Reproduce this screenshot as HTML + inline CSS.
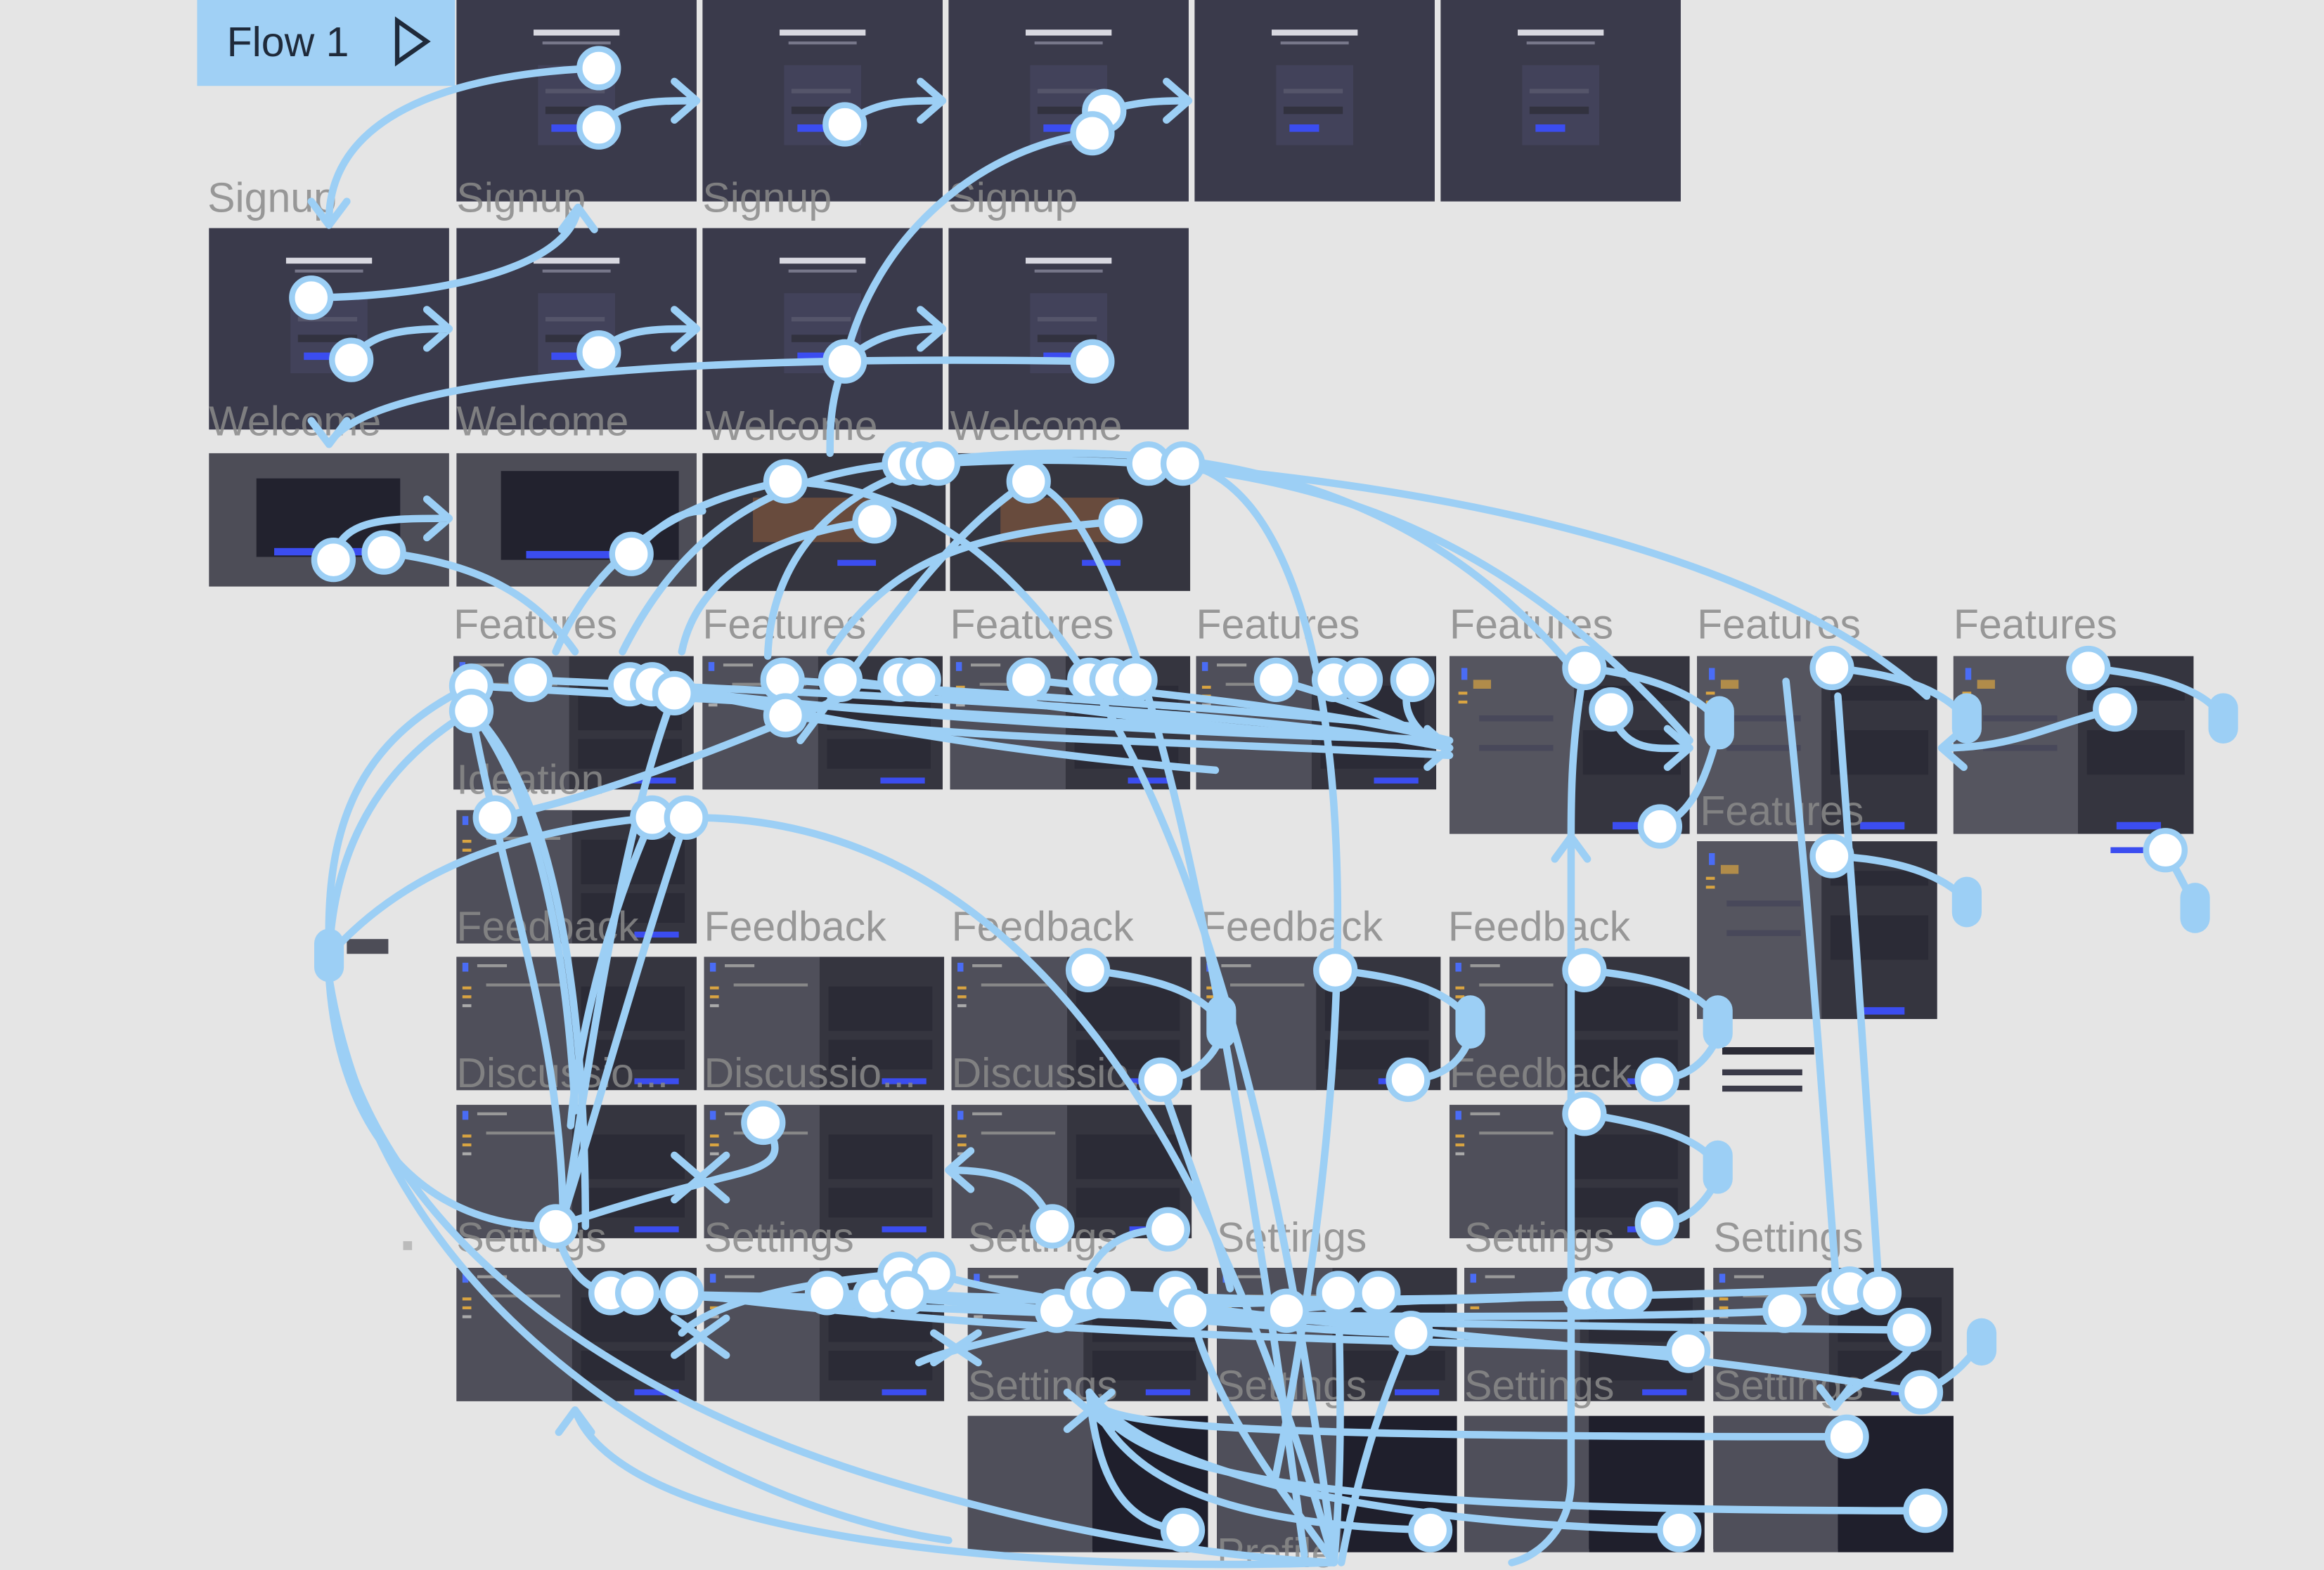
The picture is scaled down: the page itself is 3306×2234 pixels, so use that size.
<!DOCTYPE html>
<html><head><meta charset="utf-8"><style>
html,body{margin:0;padding:0;background:#e5e5e5;}
svg{display:block;}
.lbl{font-family:"Liberation Sans",sans-serif;font-size:28px;fill:#8a8a8a;opacity:.85}
.c{fill:none;stroke:#9ccff5;stroke-width:5;stroke-linecap:round;stroke-linejoin:round}
.d{fill:#fff;stroke:#9ccff5;stroke-width:4}
.p{fill:#9ccff5}
</style></head><body>
<svg width="3306" height="2234" viewBox="0 0 1568 1060" preserveAspectRatio="none" xmlns="http://www.w3.org/2000/svg">
<defs>
<g id="auth">
<rect width="162" height="136" fill="#3a3a4b"/>
<rect x="52" y="20" width="58" height="4" fill="#d8d8e0"/>
<rect x="58" y="28" width="46" height="2" fill="#77778a"/>
<rect x="55" y="44" width="52" height="54" fill="#42425a"/>
<rect x="60" y="60" width="40" height="3" fill="#55556a"/>
<rect x="60" y="72" width="40" height="5" fill="#32323f"/>
<rect x="64" y="84" width="20" height="5" fill="#3b4df0"/>
</g>
<g id="dash">
<rect width="162" height="90" fill="#35353f"/>
<rect width="78" height="90" fill="#4f4f5a"/>
<rect x="4" y="4" width="4" height="6" fill="#4a6cf5"/>
<rect x="14" y="5" width="20" height="2" fill="#999"/>
<rect x="4" y="20" width="6" height="2" fill="#d9a441"/>
<rect x="4" y="26" width="6" height="2" fill="#d9a441"/>
<rect x="4" y="32" width="6" height="2" fill="#aaa"/>
<rect x="20" y="18" width="50" height="2" fill="#888"/>
<rect x="84" y="20" width="70" height="30" fill="#2b2b36"/>
<rect x="84" y="56" width="70" height="20" fill="#2b2b36"/>
<rect x="120" y="82" width="30" height="4" fill="#3b4df0"/>
</g>
<g id="tall">
<rect width="162" height="120" fill="#35353f"/>
<rect width="84" height="120" fill="#55555f"/>
<rect x="8" y="8" width="4" height="8" fill="#4a6cf5"/>
<rect x="6" y="24" width="6" height="2" fill="#d9a441"/>
<rect x="6" y="30" width="6" height="2" fill="#d9a441"/>
<rect x="16" y="16" width="12" height="6" fill="#d9a441" opacity=".7"/>
<rect x="20" y="40" width="50" height="4" fill="#48485a"/>
<rect x="20" y="60" width="50" height="4" fill="#48485a"/>
<rect x="90" y="20" width="66" height="10" fill="#2b2b36"/>
<rect x="90" y="50" width="66" height="30" fill="#2b2b36"/>
<rect x="110" y="112" width="30" height="5" fill="#3b4df0"/>
</g>
</defs>

<rect x="133" y="0" width="174" height="58" fill="#a0d0f5"/>
<text x="153" y="38" font-family="Liberation Sans,sans-serif" font-size="28" fill="#1f2a3a">Flow 1</text>
<path d="M268,14 L288,28 L268,42 Z" fill="none" stroke="#1f2a3a" stroke-width="3"/>

<use href="#auth" x="308" y="0"/><use href="#auth" x="474" y="0"/><use href="#auth" x="640" y="0"/><use href="#auth" x="806" y="0"/><use href="#auth" x="972" y="0"/>
<use href="#auth" x="141" y="154"/><use href="#auth" x="308" y="154"/><use href="#auth" x="474" y="154"/><use href="#auth" x="640" y="154"/>
<text class="lbl" x="140" y="143">Signup</text><text class="lbl" x="308" y="143">Signup</text><text class="lbl" x="474" y="143">Signup</text><text class="lbl" x="640" y="143">Signup</text>

<rect x="141" y="306" width="162" height="90" fill="#4d4d57"/><rect x="173" y="323" width="97" height="53" fill="#22222e"/><rect x="185" y="370" width="80" height="5" fill="#3b4df0"/>
<rect x="308" y="306" width="162" height="90" fill="#4d4d57"/><rect x="338" y="318" width="120" height="60" fill="#22222e"/><rect x="355" y="372" width="80" height="5" fill="#3b4df0"/>
<rect x="474" y="306" width="164" height="93" fill="#35353f"/><rect x="508" y="336" width="80" height="30" fill="#8b5a3c" opacity=".6"/><rect x="565" y="378" width="26" height="4" fill="#3b4df0"/>
<rect x="641" y="306" width="162" height="93" fill="#35353f"/><rect x="675" y="336" width="80" height="30" fill="#8b5a3c" opacity=".6"/><rect x="730" y="378" width="26" height="4" fill="#3b4df0"/>
<text class="lbl" x="141" y="294">Welcome</text><text class="lbl" x="308" y="294">Welcome</text><text class="lbl" x="476" y="297">Welcome</text><text class="lbl" x="641" y="297">Welcome</text>

<use href="#dash" x="306" y="443"/><use href="#dash" x="474" y="443"/><use href="#dash" x="641" y="443"/><use href="#dash" x="807" y="443"/>
<use href="#tall" x="978" y="443"/><use href="#tall" x="1145" y="443"/><use href="#tall" x="1318" y="443"/><use href="#tall" x="1145" y="568"/>
<text class="lbl" x="306" y="431">Features</text><text class="lbl" x="474" y="431">Features</text><text class="lbl" x="641" y="431">Features</text><text class="lbl" x="807" y="431">Features</text><text class="lbl" x="978" y="431">Features</text><text class="lbl" x="1145" y="431">Features</text><text class="lbl" x="1318" y="431">Features</text><text class="lbl" x="1147" y="557">Features</text>
<rect x="1424" y="572" width="22" height="4" fill="#3b4df0"/>
<rect x="1162" y="707" width="62" height="5" fill="#2b2b36"/><rect x="1162" y="722" width="54" height="4" fill="#3a3a48"/><rect x="1162" y="733" width="54" height="4" fill="#3a3a48"/>
<rect x="234" y="634" width="28" height="10" fill="#4d4d57"/>

<use href="#dash" x="308" y="547"/>
<text class="lbl" x="308" y="536">Ideation</text>

<use href="#dash" x="308" y="646"/><use href="#dash" x="475" y="646"/><use href="#dash" x="642" y="646"/><use href="#dash" x="810" y="646"/><use href="#dash" x="978" y="646"/>
<text class="lbl" x="308" y="635">Feedback</text><text class="lbl" x="475" y="635">Feedback</text><text class="lbl" x="642" y="635">Feedback</text><text class="lbl" x="810" y="635">Feedback</text><text class="lbl" x="977" y="635">Feedback</text>

<use href="#dash" x="308" y="746"/><use href="#dash" x="475" y="746"/><use href="#dash" x="642" y="746"/><use href="#dash" x="978" y="746"/>
<text class="lbl" x="308" y="734">Discussio...</text><text class="lbl" x="475" y="734">Discussio...</text><text class="lbl" x="642" y="734">Discussio...</text><text class="lbl" x="978" y="734">Feedback</text>

<use href="#dash" x="308" y="856"/><use href="#dash" x="475" y="856"/><use href="#dash" x="653" y="856"/><use href="#dash" x="821" y="856"/><use href="#dash" x="988" y="856"/><use href="#dash" x="1156" y="856"/>
<text class="lbl" x="308" y="845">Settings</text><text class="lbl" x="475" y="845">Settings</text><text class="lbl" x="653" y="845">Settings</text><text class="lbl" x="821" y="845">Settings</text><text class="lbl" x="988" y="845">Settings</text><text class="lbl" x="1156" y="845">Settings</text>
<use href="#dash" x="653" y="956"/><use href="#dash" x="821" y="956"/><use href="#dash" x="988" y="956"/><use href="#dash" x="1156" y="956"/>
<rect x="737" y="956" width="78" height="92" fill="#1f1f2c"/><rect x="905" y="956" width="78" height="92" fill="#1f1f2c"/><rect x="1072" y="956" width="78" height="92" fill="#1f1f2c"/><rect x="1240" y="956" width="78" height="92" fill="#1f1f2c"/>
<rect x="653" y="956" width="84" height="92" fill="#4f4f5a"/><rect x="821" y="956" width="84" height="92" fill="#4f4f5a"/><rect x="988" y="956" width="84" height="92" fill="#4f4f5a"/><rect x="1156" y="956" width="84" height="92" fill="#4f4f5a"/>
<text class="lbl" x="653" y="945">Settings</text><text class="lbl" x="821" y="945">Settings</text><text class="lbl" x="988" y="945">Settings</text><text class="lbl" x="1156" y="945">Settings</text>
<text class="lbl" x="821" y="1058">Profile</text>
<rect x="272" y="838" width="6" height="6" fill="#bbb"/>

<g class="c">
<path d="M404,46 C300,50 220,80 222,152 M210,136 L222,152 L234,136"/>
<path d="M404,86 C420,68 440,68 470,68 M455,55 L470,68 L455,81"/>
<path d="M570,84 C590,68 610,68 636,68 M621,55 L636,68 L621,81"/>
<path d="M745,75 C770,68 785,68 802,68 M787,55 L802,68 L787,81"/>
<path d="M737,90 C660,100 590,160 570,244 C560,270 560,290 560,306"/>
<path d="M210,201 C300,200 385,180 390,140 M379,155 L390,140 L401,155"/>
<path d="M237,243 C250,225 270,222 303,222 M288,209 L303,222 L288,235"/>
<path d="M404,238 C420,222 440,222 470,222 M455,209 L470,222 L455,235"/>
<path d="M570,244 C590,226 610,222 636,222 M621,209 L636,222 L621,235"/>
<path d="M737,244 C500,240 250,250 222,300 M210,284 L222,300 L234,284"/>
<path d="M225,378 C230,350 260,350 303,350 M288,337 L303,350 L288,363"/>
<path d="M259,373 C320,380 360,400 388,440"/>
<path d="M426,374 C440,360 455,345 474,345"/>
<path d="M530,325 C450,340 400,380 375,440"/>
<path d="M610,313 C520,320 460,360 420,440"/>
<path d="M633,313 C560,330 520,380 518,443"/>
<path d="M694,325 C640,360 600,420 540,500"/>
<path d="M590,352 C520,360 470,390 460,440"/>
<path d="M756,352 C650,360 600,380 560,440"/>
<path d="M610,313 C800,290 950,320 1060,450"/>
<path d="M633,313 C850,300 1000,340 1140,500"/>
<path d="M775,313 C1000,330 1200,380 1300,470"/>
<path d="M798,313 C900,330 940,600 860,1000"/>
<path d="M694,325 C760,340 820,600 880,1050"/>
<path d="M530,325 C640,330 820,400 900,1055"/>
<path d="M358,459 C600,470 850,480 978,505 M963,492 L978,505 L963,518"/>
<path d="M318,463 C600,480 800,490 970,500"/>
<path d="M425,462 C600,485 800,495 978,500"/>
<path d="M528,459 C700,470 850,480 950,490"/>
<path d="M567,459 C700,475 800,490 880,495"/>
<path d="M694,459 C800,470 900,480 978,500"/>
<path d="M861,459 C900,470 930,480 978,505"/>
<path d="M953,459 C940,480 960,500 978,505"/>
<path d="M530,483 C650,500 800,500 978,510"/>
<path d="M440,462 C600,495 700,510 820,520"/>
<path d="M318,480 C250,520 225,580 222,645"/>
<path d="M318,463 C240,500 220,560 222,640"/>
<path d="M222,660 C230,780 300,830 375,828"/>
<path d="M222,660 C240,820 400,940 600,1000 C700,1030 800,1050 900,1055"/>
<path d="M222,660 C260,900 500,1020 640,1040"/>
<path d="M900,1055 C700,1062 420,1040 388,952 M377,967 L388,952 L399,967"/>
<path d="M318,480 C350,520 380,600 388,750"/>
<path d="M318,480 C340,600 380,700 380,830"/>
<path d="M318,480 C380,540 395,700 395,828"/>
<path d="M455,468 C420,560 400,700 380,828"/>
<path d="M463,552 C430,650 400,760 378,828"/>
<path d="M440,552 C410,620 390,700 385,760"/>
<path d="M334,552 C400,540 500,500 570,470"/>
<path d="M463,552 C650,550 800,700 900,1055"/>
<path d="M222,645 C280,580 360,560 440,552"/>
<path d="M1069,451 C1060,500 1060,540 1060,565 M1049,580 L1060,565 L1071,580"/>
<path d="M1060,565 L1060,1000 C1060,1030 1040,1050 1020,1055"/>
<path d="M1069,451 C1110,455 1150,470 1159,488"/>
<path d="M1087,479 C1095,510 1120,505 1140,505 M1125,492 L1140,505 L1125,518"/>
<path d="M1159,495 C1150,530 1140,550 1120,558"/>
<path d="M1236,451 C1280,455 1310,465 1327,485"/>
<path d="M1409,451 C1450,455 1490,465 1499,485"/>
<path d="M1427,479 C1380,490 1360,505 1310,505 M1325,492 L1310,505 L1325,518"/>
<path d="M1236,578 C1280,580 1310,590 1327,608"/>
<path d="M1461,574 C1470,590 1475,600 1481,612"/>
<path d="M1205,460 C1220,600 1230,750 1240,880"/>
<path d="M1240,470 C1250,600 1260,750 1268,873"/>
<path d="M734,655 C780,660 810,670 824,690"/>
<path d="M824,700 C815,720 800,728 783,729"/>
<path d="M901,655 C950,660 980,670 992,690"/>
<path d="M992,700 C985,720 970,728 950,729"/>
<path d="M1069,655 C1120,660 1150,670 1159,690"/>
<path d="M1159,700 C1150,720 1135,728 1118,729"/>
<path d="M1069,752 C1120,760 1150,770 1159,788"/>
<path d="M1159,795 C1150,815 1135,826 1118,826"/>
<path d="M783,729 C800,780 820,830 830,870"/>
<path d="M515,758 C540,790 500,790 470,800 C430,810 400,820 375,828"/>
<path d="M455,780 L490,810 M455,810 L490,780"/>
<path d="M710,828 C700,800 680,790 640,790 M655,777 L640,790 L655,803"/>
<path d="M788,830 C760,830 740,840 730,870"/>
<path d="M375,828 C380,850 390,870 412,873"/>
<path d="M412,873 C700,880 1000,880 1248,870"/>
<path d="M430,873 C700,890 1000,895 1288,898"/>
<path d="M460,873 C700,905 1000,905 1139,912"/>
<path d="M558,873 C800,880 1000,878 1085,873"/>
<path d="M590,875 C800,890 900,900 952,900"/>
<path d="M612,873 C800,885 900,880 930,873"/>
<path d="M607,860 C500,870 470,890 460,900"/>
<path d="M630,860 C700,880 780,885 803,885"/>
<path d="M713,885 C900,890 1100,890 1204,885"/>
<path d="M733,873 C900,880 1000,880 1069,873"/>
<path d="M748,873 C900,900 1050,900 1296,940"/>
<path d="M793,873 C700,900 640,910 620,920"/>
<path d="M868,885 C900,880 950,878 1100,873"/>
<path d="M455,890 L490,915 M455,915 L490,890"/>
<path d="M630,900 L660,920 M630,920 L660,900"/>
<path d="M735,940 C740,960 760,970 1246,970"/>
<path d="M735,940 C760,1000 900,1020 1299,1020"/>
<path d="M735,940 C760,1010 850,1030 965,1033"/>
<path d="M735,940 C780,1000 950,1030 1133,1033"/>
<path d="M735,940 C740,1000 760,1030 798,1033"/>
<path d="M720,940 L750,965 M720,965 L750,940"/>
<path d="M1288,898 C1300,920 1250,930 1238,950 M1228,937 L1238,950 L1248,937"/>
<path d="M1296,940 C1320,930 1330,915 1337,906"/>
<path d="M903,873 C905,950 905,1000 900,1055"/>
<path d="M803,885 C820,950 860,1000 900,1055"/>
<path d="M952,900 C930,950 915,1000 905,1055"/>
</g>
<g class="p">
<rect x="212" y="627" width="20" height="36" rx="10"/>
<rect x="1150" y="470" width="20" height="36" rx="10"/>
<rect x="1317" y="468" width="20" height="34" rx="10"/>
<rect x="1490" y="468" width="20" height="34" rx="10"/>
<rect x="1317" y="592" width="20" height="34" rx="10"/>
<rect x="1471" y="596" width="20" height="34" rx="10"/>
<rect x="814" y="672" width="20" height="36" rx="10"/>
<rect x="982" y="672" width="20" height="36" rx="10"/>
<rect x="1149" y="672" width="20" height="36" rx="10"/>
<rect x="1149" y="770" width="20" height="36" rx="10"/>
<rect x="1327" y="890" width="20" height="32" rx="10"/>
</g>
<g class="d">
<circle cx="404" cy="46" r="13"/><circle cx="404" cy="86" r="13"/><circle cx="570" cy="84" r="13"/><circle cx="745" cy="75" r="13"/><circle cx="737" cy="90" r="13"/>
<circle cx="210" cy="201" r="13"/><circle cx="237" cy="243" r="13"/><circle cx="404" cy="238" r="13"/><circle cx="570" cy="244" r="13"/><circle cx="737" cy="244" r="13"/>
<circle cx="225" cy="378" r="13"/><circle cx="259" cy="373" r="13"/><circle cx="426" cy="374" r="13"/>
<circle cx="530" cy="325" r="13"/><circle cx="610" cy="313" r="13"/><circle cx="622" cy="313" r="13"/><circle cx="633" cy="313" r="13"/><circle cx="694" cy="325" r="13"/><circle cx="590" cy="352" r="13"/><circle cx="756" cy="352" r="13"/><circle cx="775" cy="313" r="13"/><circle cx="798" cy="313" r="13"/>
<circle cx="318" cy="463" r="13"/><circle cx="318" cy="480" r="13"/><circle cx="358" cy="459" r="13"/><circle cx="425" cy="462" r="13"/><circle cx="440" cy="462" r="13"/><circle cx="455" cy="468" r="13"/>
<circle cx="528" cy="459" r="13"/><circle cx="567" cy="459" r="13"/><circle cx="607" cy="459" r="13"/><circle cx="620" cy="459" r="13"/><circle cx="530" cy="483" r="13"/>
<circle cx="694" cy="459" r="13"/><circle cx="735" cy="459" r="13"/><circle cx="750" cy="459" r="13"/><circle cx="766" cy="459" r="13"/>
<circle cx="861" cy="459" r="13"/><circle cx="900" cy="459" r="13"/><circle cx="918" cy="459" r="13"/><circle cx="953" cy="459" r="13"/>
<circle cx="1069" cy="451" r="13"/><circle cx="1087" cy="479" r="13"/><circle cx="1120" cy="558" r="13"/><circle cx="1236" cy="451" r="13"/><circle cx="1236" cy="578" r="13"/><circle cx="1409" cy="451" r="13"/><circle cx="1427" cy="479" r="13"/><circle cx="1461" cy="574" r="13"/>
<circle cx="334" cy="552" r="13"/><circle cx="440" cy="552" r="13"/><circle cx="463" cy="552" r="13"/>
<circle cx="734" cy="655" r="13"/><circle cx="783" cy="729" r="13"/><circle cx="901" cy="655" r="13"/><circle cx="950" cy="729" r="13"/><circle cx="1069" cy="655" r="13"/><circle cx="1118" cy="729" r="13"/><circle cx="1069" cy="752" r="13"/><circle cx="1118" cy="826" r="13"/>
<circle cx="515" cy="758" r="13"/><circle cx="375" cy="828" r="13"/><circle cx="710" cy="828" r="13"/><circle cx="788" cy="830" r="13"/>
<circle cx="412" cy="873" r="13"/><circle cx="430" cy="873" r="13"/><circle cx="460" cy="873" r="13"/><circle cx="558" cy="873" r="13"/><circle cx="590" cy="875" r="13"/><circle cx="607" cy="860" r="13"/><circle cx="630" cy="860" r="13"/><circle cx="612" cy="873" r="13"/>
<circle cx="713" cy="885" r="13"/><circle cx="733" cy="873" r="13"/><circle cx="748" cy="873" r="13"/><circle cx="793" cy="873" r="13"/><circle cx="803" cy="885" r="13"/>
<circle cx="868" cy="885" r="13"/><circle cx="903" cy="873" r="13"/><circle cx="930" cy="873" r="13"/><circle cx="952" cy="900" r="13"/>
<circle cx="1069" cy="873" r="13"/><circle cx="1085" cy="873" r="13"/><circle cx="1100" cy="873" r="13"/><circle cx="1139" cy="912" r="13"/>
<circle cx="1204" cy="885" r="13"/><circle cx="1240" cy="873" r="13"/><circle cx="1248" cy="870" r="13"/><circle cx="1268" cy="873" r="13"/><circle cx="1288" cy="898" r="13"/><circle cx="1296" cy="940" r="13"/>
<circle cx="1246" cy="970" r="13"/><circle cx="1299" cy="1020" r="13"/><circle cx="798" cy="1033" r="13"/><circle cx="965" cy="1033" r="13"/><circle cx="1133" cy="1033" r="13"/>
</g>
</svg>
</body></html>
